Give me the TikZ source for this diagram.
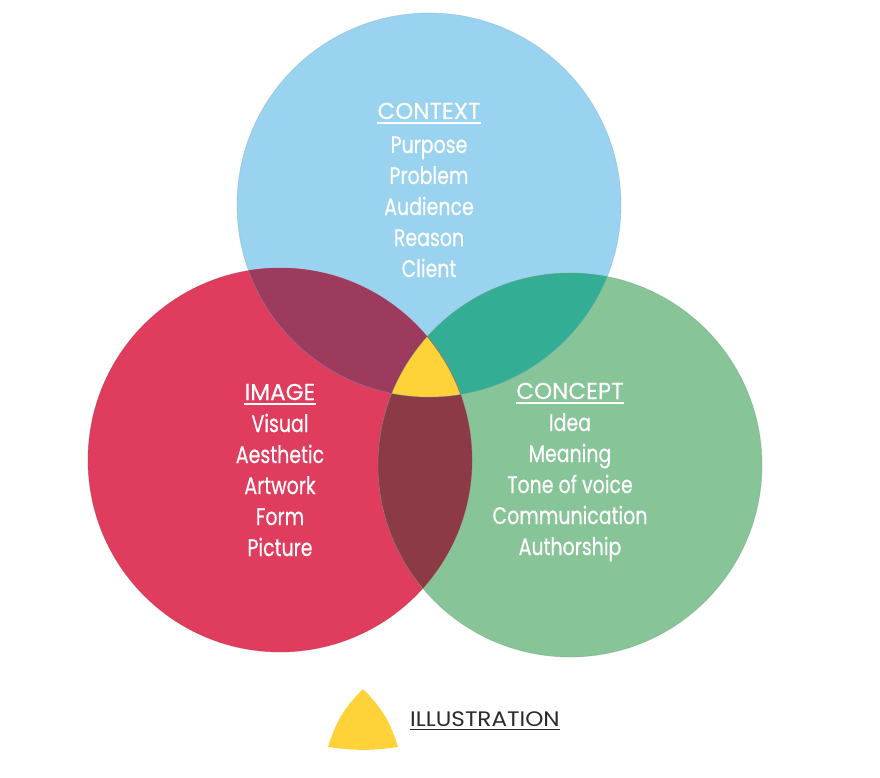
\documentclass[tikz,border=0pt]{standalone}
\usepackage{fontspec}
\setmainfont[FakeStretch=0.79,FakeBold=0.5]{Poppins}
\newfontfamily\headfont[FakeBold=0.3]{Poppins}
\newfontfamily\legendfont[FakeStretch=1.1]{Poppins}
\usepackage{tikz}
\usetikzlibrary{calc}

\definecolor{ctxblue}{HTML}{9AD3EF}
\definecolor{imgred}{HTML}{E03C5E}
\definecolor{cptgreen}{HTML}{87C497}
\definecolor{imgctx}{HTML}{9D3B5E}
\definecolor{ctxcpt}{HTML}{33AE94}
\definecolor{imgcpt}{HTML}{8C3A45}
\definecolor{illyellow}{HTML}{FFD23A}
\definecolor{legendgray}{HTML}{2A2A2A}

\begin{document}
\begin{tikzpicture}[x=1pt,y=-1pt,
	head/.style={anchor=base,inner sep=0pt,text=white,font=\headfont\fontsize{23}{23}\selectfont},
	item/.style={anchor=base,inner sep=0pt,text=white,font=\fontsize{24}{24}\selectfont},
	uline/.style={white,line width=1.6pt}]
\useasboundingbox (0,0) rectangle (880,778);

\coordinate (ctx) at (429,205);
\coordinate (img) at (280,460);
\coordinate (cpt) at (570,465);
\def\rad{192}

% the three circles
\fill[ctxblue] (ctx) circle (\rad);
\fill[imgred] (img) circle (\rad);
\fill[cptgreen] (cpt) circle (\rad);

% overlaps
\begin{scope}
\clip (ctx) circle (\rad);
\fill[imgctx] (img) circle (\rad);
\fill[ctxcpt] (cpt) circle (\rad);
\end{scope}
\begin{scope}
\clip (img) circle (\rad);
\fill[imgcpt] (cpt) circle (\rad);
\end{scope}
\begin{scope}
\clip (ctx) circle (\rad);
\clip (img) circle (\rad);
\fill[illyellow] (cpt) circle (\rad);
\end{scope}

\draw[ctxblue!80!black,opacity=0.35,line width=0.8pt] (ctx) circle (\rad);
\draw[imgred!80!black,opacity=0.35,line width=0.8pt] (img) circle (\rad);
\draw[cptgreen!80!black,opacity=0.35,line width=0.8pt] (cpt) circle (\rad);

% context
\node[head] (ctxhead) at (429,119){CONTEXT};
\draw[uline] ($(ctxhead.base west)+(0,4)$)--($(ctxhead.base east)+(0,4)$);
\foreach\t [count=\i] in {Purpose,Problem,Audience,Reason,Client}{
	\node[item] (ctx\i) at (429,{122+31*\i}){\t};}

% image
\node[head] (imghead) at (280,400){IMAGE};
\draw[uline] ($(imghead.base west)+(0,4)$)--($(imghead.base east)+(0,4)$);
\foreach\t [count=\i] in {Visual,Aesthetic,Artwork,Form,Picture}{
	\node[item] (img\i) at (280,{401+31*\i}){\t};}

% concept
\node[head] (cpthead) at (570,399){CONCEPT};
\draw[uline] ($(cpthead.base west)+(0,4)$)--($(cpthead.base east)+(0,4)$);
\foreach\t [count=\i] in {Idea,Meaning,Tone of voice,Communication,Authorship}{
	\node[item] (cpt\i) at (570,{400+31*\i}){\t};}

% legend
\fill[illyellow] (328,747) to[bend left=14] (363,689) to[bend left=14] (398,747) to[bend left=8] cycle;
\node[anchor=base west,inner sep=0pt,text=legendgray,font=\legendfont\fontsize{21}{21}\selectfont] (illus) at (410,726){ILLUSTRATION};
\draw[legendgray,line width=1.3pt] ($(illus.base west)+(0,3.5)$)--($(illus.base east)+(0,3.5)$);
\end{tikzpicture}
\end{document}
